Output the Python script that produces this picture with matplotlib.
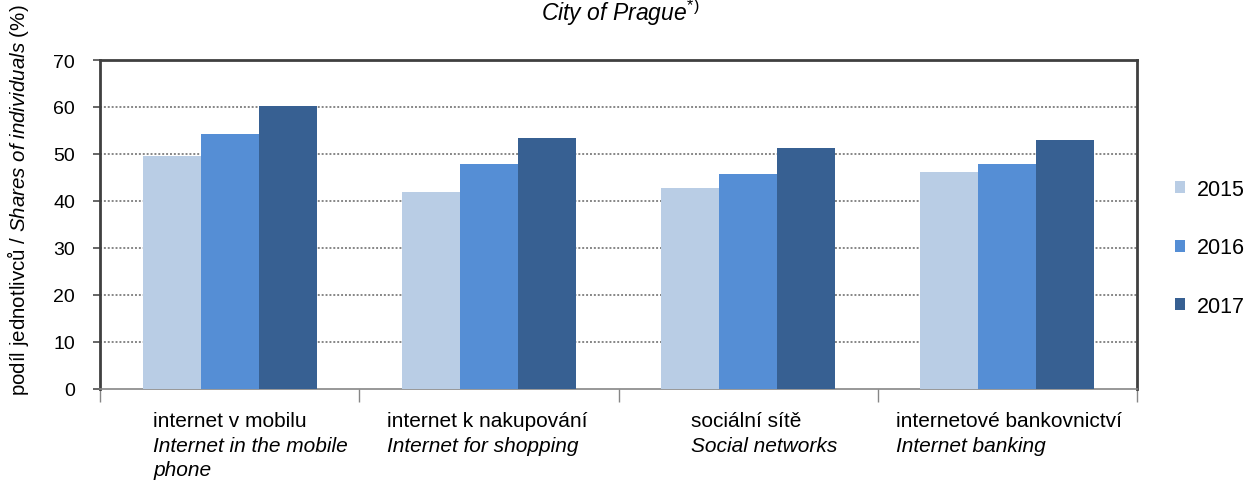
import numpy as np
import matplotlib
matplotlib.use('Agg')
import matplotlib.pyplot as plt
from matplotlib.patches import Patch

# data
categories_cz = ['internet v mobilu', 'internet k nakupování', 'sociální sítě',
                 'internetové bankovnictví']
categories_en = ['Internet in the mobile\nphone', 'Internet for shopping',
                 'Social networks', 'Internet banking']
years = ['2015', '2016', '2017']
v2015 = [49.6, 41.9, 42.8, 46.2]
v2016 = [54.2, 47.9, 45.7, 47.9]
v2017 = [60.1, 53.3, 51.3, 53.0]
yticks = [0, 10, 20, 30, 40, 50, 60, 70]

colors = ['#B9CDE5', '#558ED5', '#376092']
# left edge of label text relative to category centre (layout only)
label_dx = [-0.295, -0.392, -0.222, -0.43]

plt.rcParams['font.family'] = ['Liberation Sans', 'DejaVu Sans']
plt.rcParams['mathtext.fontset'] = 'custom'
plt.rcParams['mathtext.rm'] = 'Liberation Sans'
plt.rcParams['mathtext.it'] = 'Liberation Sans:italic'

fig = plt.figure(figsize=(12.47, 4.81), dpi=100)
ax = fig.add_axes([100 / 1247, 1 - 389.7 / 481, 1037 / 1247, 328.7 / 481])

x = np.arange(len(categories_cz))
w = 0.224
for k, (vals, c) in enumerate(zip([v2015, v2016, v2017], colors)):
    ax.bar(x + (k - 1) * w, vals, width=w, color=c, edgecolor='none', zorder=3)

ax.set_xlim(-0.5, len(categories_cz) - 0.5)
ax.set_ylim(0, 70)
ax.set_yticks(yticks)
ax.tick_params(axis='y', labelsize=14, length=5, width=1.3, color='#595959', pad=13)
for t in yticks[1:-1]:
    ax.axhline(t, color='#868686', linestyle=(0, (1, 1)), lw=1.4, zorder=1)

ax.set_xticks([])
ax.set_xticks(np.arange(len(categories_cz) + 1) - 0.5, minor=True)
ax.tick_params(axis='x', which='minor', length=9, width=1, color='#868686', labelbottom=False)

for side in ['top', 'right', 'left']:
    ax.spines[side].set_color('#404040')
    ax.spines[side].set_linewidth(2)
ax.spines['bottom'].set_color('#868686')
ax.spines['bottom'].set_linewidth(1.2)

for i in range(len(categories_cz)):
    ax.annotate(categories_cz[i], xy=(x[i] + label_dx[i], 0), xycoords=('data', 'axes fraction'),
                xytext=(0, -37), textcoords='offset pixels', ha='left', va='baseline', fontsize=15)
    for j, line in enumerate(categories_en[i].split('\n')):
        ax.annotate(line, xy=(x[i] + label_dx[i], 0), xycoords=('data', 'axes fraction'),
                    xytext=(0, -62 - 24 * j), textcoords='offset pixels', ha='left',
                    va='baseline', fontsize=15, style='italic')

fig.text(620 / 1247, 1 - 13 / 481, r'$\mathit{City\ of\ Prague}^{*)}$', ha='center', va='center',
         fontsize=16.5)
fig.text(18 / 1247, 1 - 200 / 481,
         r'podíl jednotlivců / $\mathit{Shares\ of\ individuals}$ (%)',
         rotation=90, ha='center', va='center', fontsize=14.8)

handles = [Patch(facecolor=c, edgecolor='none') for c in colors]
fig.legend(handles, years, loc='center left', bbox_to_anchor=(1175 / 1247, 1 - 249 / 481),
           frameon=False, fontsize=15.5, handlelength=0.47, handleheight=0.47,
           handletextpad=0.56, labelspacing=1.74, borderpad=0, borderaxespad=0)

fig.savefig('out.png', dpi=100)
